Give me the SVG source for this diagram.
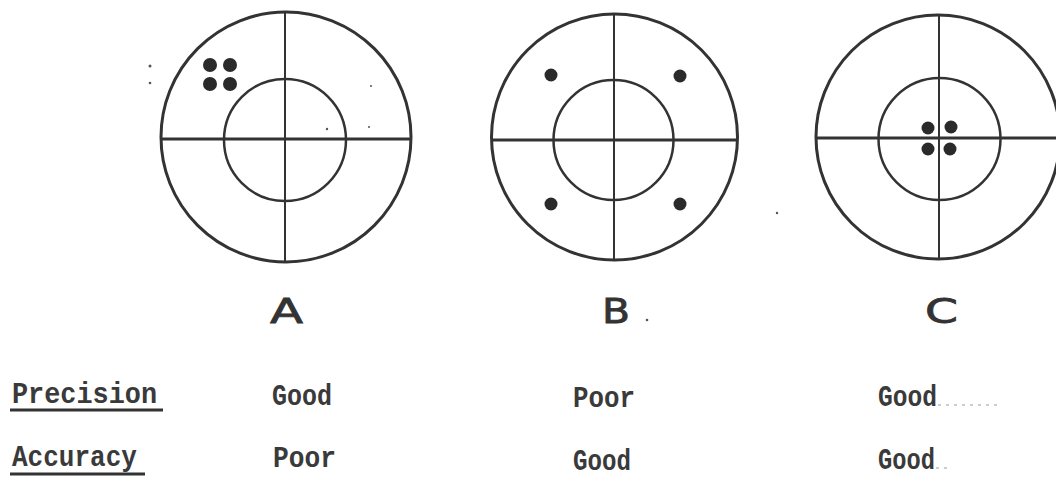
<svg xmlns="http://www.w3.org/2000/svg" width="1056" height="479" viewBox="0 0 1056 479">
<style>
.outer{fill:none;stroke:#333;stroke-width:3}
.inner{fill:none;stroke:#333;stroke-width:2.5}
.hl{stroke:#333;stroke-width:3.2}
.vl{stroke:#333;stroke-width:2}
.hit{fill:#2a2a2a}
.speck{fill:#555}
.lbl{font-family:"DejaVu Sans","Liberation Sans",sans-serif;font-size:34px;fill:#333;stroke:#333;stroke-width:0.8}
.tw{font-family:"Liberation Mono","DejaVu Sans Mono",monospace;font-size:29px;font-weight:bold;fill:#3a3a3a}
.ul{stroke:#333;stroke-width:3}
.dash{stroke:#999;stroke-width:1.2;stroke-dasharray:3 5}
</style>
<rect width="1056" height="479" fill="#fff"/>
<g id="targetA">
<circle class="outer" cx="286" cy="137" r="125"/>
<circle class="inner" cx="285" cy="140" r="61"/>
<line class="hl" x1="161" y1="139" x2="411" y2="139"/>
<line class="vl" x1="285" y1="13" x2="285" y2="261"/>
<circle class="hit" cx="210" cy="65" r="7"/>
<circle class="hit" cx="230" cy="65" r="7"/>
<circle class="hit" cx="210" cy="84" r="7"/>
<circle class="hit" cx="230" cy="84" r="7"/>
<circle class="speck" cx="150" cy="66" r="1.5"/>
<circle class="speck" cx="150" cy="83" r="1.3"/>
<circle class="speck" cx="371" cy="86" r="1"/>
<circle class="speck" cx="327" cy="129" r="1.2"/>
<circle class="speck" cx="369" cy="127" r="1"/>
</g>
<g id="targetB">
<circle class="outer" cx="614.5" cy="137" r="123"/>
<circle class="inner" cx="613.5" cy="140" r="60"/>
<line class="hl" x1="491" y1="140" x2="738" y2="140"/>
<line class="vl" x1="614" y1="14" x2="614" y2="260"/>
<circle class="hit" cx="551" cy="75" r="6.5"/>
<circle class="hit" cx="680" cy="76" r="6.5"/>
<circle class="hit" cx="551" cy="204" r="6.5"/>
<circle class="hit" cx="680" cy="204" r="6.5"/>
<circle class="speck" cx="777" cy="213" r="1.2"/>
</g>
<g id="targetC">
<circle class="outer" cx="938" cy="137" r="122"/>
<circle class="inner" cx="939.5" cy="139" r="61"/>
<line class="hl" x1="816" y1="138" x2="1056" y2="138"/>
<line class="vl" x1="939" y1="14" x2="939" y2="259"/>
<circle class="hit" cx="928" cy="128" r="6.5"/>
<circle class="hit" cx="951" cy="127" r="6.5"/>
<circle class="hit" cx="928" cy="149" r="6.5"/>
<circle class="hit" cx="950" cy="149" r="6.5"/>
</g>
<g id="labels">
<text class="lbl" x="270" y="323" textLength="33" lengthAdjust="spacingAndGlyphs">A</text>
<text class="lbl" x="602" y="323" textLength="28" lengthAdjust="spacingAndGlyphs">B</text>
<circle class="speck" cx="647" cy="320" r="1.3"/>
<text class="lbl" x="925" y="323" textLength="33" lengthAdjust="spacingAndGlyphs">C</text>
</g>
<g id="table">
<text class="tw" x="12" y="403" textLength="145" lengthAdjust="spacingAndGlyphs">Precision</text>
<line class="ul" x1="10" y1="410" x2="163" y2="410"/>
<text class="tw" x="12" y="466" textLength="125" lengthAdjust="spacingAndGlyphs">Accuracy</text>
<line class="ul" x1="10" y1="474" x2="145" y2="474"/>
<text class="tw" x="272" y="405" textLength="60" lengthAdjust="spacingAndGlyphs">Good</text>
<text class="tw" x="273" y="467" textLength="63" lengthAdjust="spacingAndGlyphs">Poor</text>
<text class="tw" x="573" y="407" textLength="62" lengthAdjust="spacingAndGlyphs">Poor</text>
<text class="tw" x="573" y="470" textLength="58" lengthAdjust="spacingAndGlyphs">Good</text>
<text class="tw" x="878" y="406" textLength="59" lengthAdjust="spacingAndGlyphs">Good</text>
<line class="dash" x1="938" y1="405" x2="1000" y2="405"/>
<text class="tw" x="878" y="469" textLength="57" lengthAdjust="spacingAndGlyphs">Good</text>
<line class="dash" x1="936" y1="468" x2="952" y2="468"/>
</g>
</svg>
